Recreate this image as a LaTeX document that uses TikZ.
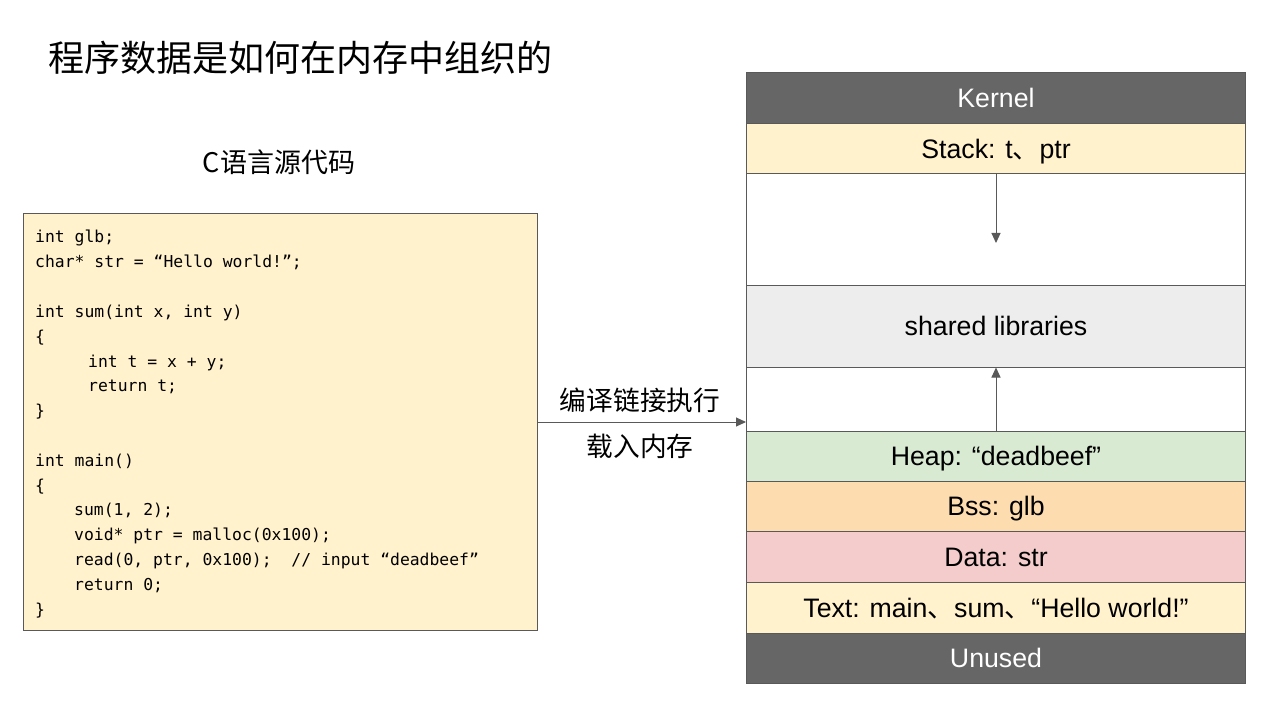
\documentclass[tikz,border=0pt]{standalone}
\usepackage{fontspec}
\setmainfont{Liberation Sans}
\newfontfamily\cjk{Noto Sans CJK SC}
\newfontfamily\codefont{DejaVu Sans Mono}
\usetikzlibrary{arrows.meta}
\definecolor{lineg}{HTML}{595959}
\definecolor{darkg}{HTML}{666666}
\definecolor{cream}{HTML}{FFF2CC}
\definecolor{libg}{HTML}{EDEDED}
\definecolor{heapg}{HTML}{D9EAD3}
\definecolor{bssor}{HTML}{FDDCAF}
\definecolor{datapk}{HTML}{F4CCCC}
\tikzset{
  seg/.style={draw=lineg, line width=1pt, minimum width=499pt, inner sep=0pt, text height=20pt, text depth=1pt, font=\fontsize{26.7}{30}\selectfont},
  codeline/.style={anchor=base west, inner sep=0pt, font=\codefont\fontsize{16.4}{20}\selectfont},
  lbl/.style={inner sep=0pt, font=\cjk\fontsize{26.7}{30}\selectfont},
  arr/.style={draw=lineg, line width=1pt, -{Triangle[length=10pt,width=9pt]}}
}
\begin{document}
\begin{tikzpicture}[x=1pt,y=-1pt]
\useasboundingbox[fill=white] (0,0) rectangle (1288,711);
% title
\node[inner sep=0pt, anchor=west, font=\cjk\fontsize{36}{40}\selectfont] (title) at (48,58) {程序数据是如何在内存中组织的};
\node[lbl, font=\cjk\fontsize{27}{30}\selectfont] (ctitle) at (279,162) {C语言源代码};
% code box
\node[draw=lineg, fill=cream, line width=1pt, minimum width=514pt, minimum height=416pt, inner sep=0pt] (code) at (280,422) {};
\node[codeline] (c1) at (35,243) {int glb;};
\node[codeline] (c2) at (35,267.8) {char* str = “Hello world!”;};
\node[codeline] (c4) at (35,317.4) {int sum(int x, int y)};
\node[codeline] (c5) at (35,342.2) {\{};
\node[codeline] (c6) at (88,367) {int t = x + y;};
\node[codeline] (c7) at (88,391.8) {return t;};
\node[codeline] (c8) at (35,416.6) {\}};
\node[codeline] (c10) at (35,466.2) {int main()};
\node[codeline] (c11) at (35,491) {\{};
\node[codeline] (c12) at (74,515.8) {sum(1, 2);};
\node[codeline] (c13) at (74,540.6) {void* ptr = malloc(0x100);};
\node[codeline] (c14) at (74,565.4) {read(0, ptr, 0x100);\ \ // input “deadbeef”};
\node[codeline] (c15) at (74,590.2) {return 0;};
\node[codeline] (c16) at (35,615) {\}};
% memory layout
\node[seg, fill=darkg, text=white, minimum height=51pt] (kernel) at (996,98.5) {Kernel};
\node[seg, fill=cream, minimum height=50pt] (stack) at (996,149) {Stack: t{\cjk 、}ptr};
\node[seg, fill=white, minimum height=112pt] (gap1) at (996,230) {};
\node[seg, fill=libg, minimum height=81pt] (libs) at (996,326.5) {shared libraries};
\node[seg, fill=white, minimum height=64pt] (gap2) at (996,399) {};
\node[seg, fill=heapg, minimum height=50pt] (heap) at (996,456) {Heap: “deadbeef”};
\node[seg, fill=bssor, minimum height=50pt] (bss) at (996,506) {Bss: glb};
\node[seg, fill=datapk, minimum height=51pt] (data) at (996,556.5) {Data: str};
\node[seg, fill=cream, minimum height=51pt] (text) at (996,607.5) {Text: main{\cjk 、}sum{\cjk 、}“Hello world!”};
\node[seg, fill=darkg, text=white, minimum height=50pt] (unused) at (996,658) {Unused};
% growth arrows
\coordinate (stackend) at (996,243);
\draw[arr] (stack.south) -- (stackend);
\draw[arr] (heap.north) -- (libs.south);
% main arrow
\draw[arr] (code.east) -- (gap2.west |- code.east);
\node[lbl] (l1) at (640,400) {编译链接执行};
\node[lbl] (l2) at (640,446) {载入内存};
\end{tikzpicture}
\end{document}
